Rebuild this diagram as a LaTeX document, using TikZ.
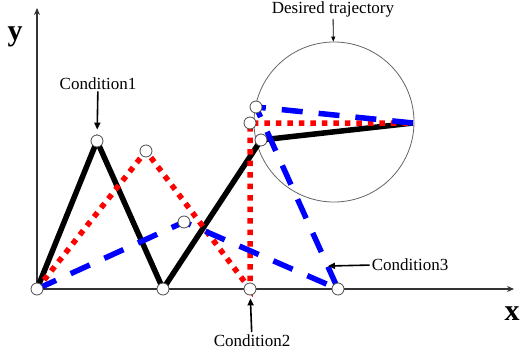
\documentclass[tikz,border=0pt]{standalone}
\usepackage{fontspec}
\setmainfont{Liberation Serif}
\usetikzlibrary{arrows.meta}

\begin{document}
\begin{tikzpicture}[
    x=1pt, y=-1pt,
    joint/.style={circle, draw=black!70, fill=white, line width=0.8pt, minimum size=12pt, inner sep=0pt},
    axis/.style={-{Stealth[length=7pt,width=6pt]}, line width=1.4pt, draw=black!80},
    armA/.style={line width=5.5pt, black},
    armB/.style={line width=5.5pt, red, dash pattern=on 5.5pt off 6pt},
    armC/.style={line width=5.5pt, blue, dash pattern=on 21pt off 16pt},
    pointer/.style={-{Triangle[length=7pt,width=6pt]}, line width=1.6pt},
    note/.style={font=\fontsize{17}{20}\selectfont, anchor=base, inner sep=2pt},
    axislabel/.style={font=\fontsize{30}{34}\selectfont\bfseries, anchor=base}
]
\useasboundingbox (0,0) rectangle (521,356);

% Points
\coordinate (o) at (37,289);
\coordinate (ytop) at (37,8);
\coordinate (xend) at (514,289);
\coordinate (e) at (413,123);
\coordinate (a1) at (97,141);
\coordinate (a2) at (163,289);
\coordinate (a3) at (261,140);
\coordinate (b1) at (146,151);
\coordinate (b2) at (250,289);
\coordinate (b3) at (250,123);
\coordinate (c1) at (184,222);
\coordinate (c2) at (338,289);
\coordinate (c3) at (256,107);
\coordinate (c3tip) at (328,266);

% Axes
\draw[axis] (o) -- (ytop);
\draw[axis] (o) -- (xend);
\node[axislabel] (ylab) at (15,40) {y};
\node[axislabel] (xlab) at (512,320) {x};

% Desired trajectory
\node[circle, draw=black!60, line width=0.8pt, minimum size=160pt, inner sep=0pt] (goal) at (334,122) {};

% Trajectories
\draw[armA] (o) -- (a1) -- (a2) -- (a3) -- (e);
\draw[armB] (o) -- (b1) -- (b2) -- (b3) -- (e);
\draw[armC] (o) -- (c1) -- (c2) -- (c3) -- (e);

% Joints
\foreach \p in {o, a1, a2, a3, b1, b2, b3, c1, c2, c3}
  \node[joint] (j\p) at (\p) {};

% Labels
\node[note] (desired) at (333,13) {Desired trajectory};
\node[note] (cond1) at (98,89) {Condition1};
\node[note] (cond2) at (252,346) {Condition2};
\node[note] (cond3) at (410,270) {Condition3};

\draw[-{Triangle[length=5pt,width=4pt]}, line width=0.8pt] (desired) -- (goal);
\draw[pointer, shorten >=5pt] (cond1) -- (ja1);
\draw[pointer, shorten >=3pt] (cond2) -- (jb2);
\draw[pointer] (cond3) -- (c3tip);

\end{tikzpicture}
\end{document}
